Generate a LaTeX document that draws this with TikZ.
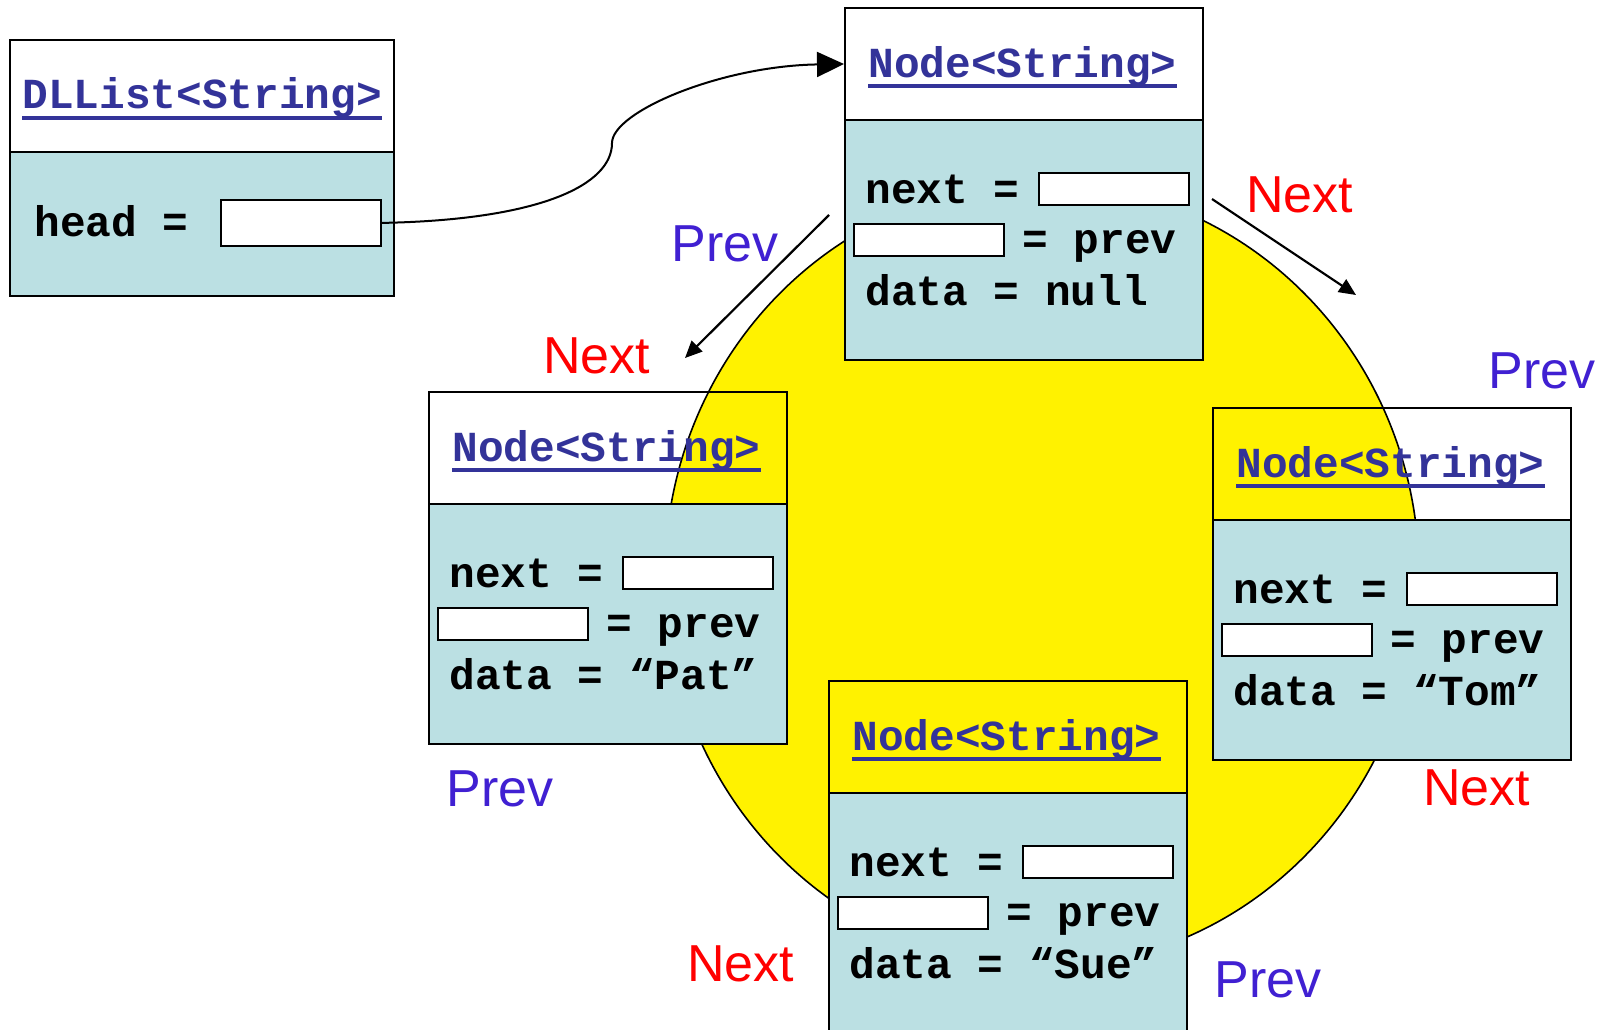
\documentclass[tikz,border=0pt]{standalone}
\usepackage{fontspec}
\setmainfont{Liberation Sans}
\newfontfamily\codefont{Liberation Mono}
\usetikzlibrary{arrows.meta,shapes.geometric}
\definecolor{bodyblue}{RGB}{187,224,227}
\definecolor{titleblue}{RGB}{51,51,153}
\definecolor{prevblue}{RGB}{64,32,210}
\definecolor{nextred}{RGB}{255,0,0}
\tikzset{
  hdrbox/.style={draw, line width=1pt, anchor=north west, minimum width=179pt, minimum height=56pt, inner sep=0pt},
  bodybox/.style={draw, fill=bodyblue, line width=1pt, anchor=north west, minimum width=179pt, minimum height=120pt, inner sep=0pt},
  fieldbox/.style={draw, fill=white, line width=0.9pt, anchor=north west, minimum width=75pt, minimum height=16pt, inner sep=0pt},
  titletext/.style={anchor=base west, inner sep=0pt, text=titleblue, font=\codefont\bfseries\fontsize{21.4}{25}\selectfont},
  codetext/.style={anchor=base west, inner sep=0pt, text=black, font=\codefont\bfseries\fontsize{21.4}{25}\selectfont},
  uline/.style={draw=titleblue, line width=2pt},
  prevlabel/.style={anchor=base west, inner sep=0pt, text=prevblue, font=\fontsize{26}{30}\selectfont},
  nextlabel/.style={anchor=base west, inner sep=0pt, text=nextred, font=\fontsize{26}{30}\selectfont},
  ptr/.style={line width=1.1pt, -{Triangle[length=8.5pt,width=7.5pt]}},
  headptr/.style={line width=1pt, -{Triangle[length=13.5pt,width=12.5pt]}}
}
\newcommand{\llnode}[4]{%
  \node[hdrbox] (#1-h) at (#2,#3) {};
  \node[bodybox] (#1-b) at (#2,{#3+112}) {};
  \node[fieldbox] (#1-next) at ({#2+194},{#3+165}) {};
  \node[fieldbox] (#1-prev) at ({#2+9},{#3+216}) {};
  \node[titletext] (#1-t) at ({#2+24},{#3+70}) {Node<String>};
  \draw[uline] ([yshift=-4.5pt]#1-t.base west) -- ([yshift=-4.5pt]#1-t.base east);
  \node[codetext] (#1-nl) at ({#2+21},{#3+196}) {next =};
  \node[codetext] (#1-pl) at ({#2+178},{#3+246}) {= prev};
  \node[codetext] (#1-dl) at ({#2+21},{#3+298}) {data = #4};
}
\begin{document}
\begin{tikzpicture}[x=0.5pt, y=-0.5pt]
\useasboundingbox (0,0) rectangle (1604,1029);
\clip (0,0) rectangle (1604,1029);
\fill[white] (0,0) rectangle (1604,1029);
% yellow ring
\node[ellipse, draw, line width=0.8pt, fill=yellow, minimum width=377pt, minimum height=392pt, inner sep=0pt] (ring) at (1042,575) {};
% DLList box
\node[hdrbox, minimum width=192pt] (list-h) at (9,39) {};
\node[bodybox, minimum width=192pt, minimum height=72pt] (list-b) at (9,151) {};
\node[titletext] (list-t) at (22,108) {DLList<String>};
\draw[uline] ([yshift=-5pt]list-t.base west) -- ([yshift=-5pt]list-t.base east);
\node[codetext] (list-hl) at (34,236) {head =};
\node[fieldbox, minimum width=80pt, minimum height=23pt] (headfield) at (220,199) {};
% list nodes
\llnode{top}{844}{7}{null}
\llnode{pat}{428}{391}{“Pat”}
\llnode{tom}{1212}{407}{“Tom”}
\llnode{sue}{828}{680}{“Sue”}
% head pointer
\coordinate (mid) at (612,143);
\draw[headptr] (headfield.east) .. controls (540,220) and (612,185) .. (mid) .. controls (612,112) and (720,66) .. (top-h.west);
% arrows
\coordinate (pa1) at (829,215);
\coordinate (pa2) at (685,358);
\coordinate (na1) at (1212,199);
\coordinate (na2) at (1356,295);
\draw[ptr] (pa1) -- (pa2);
\draw[ptr] (na1) -- (na2);
% labels
\node[nextlabel] (lab-n1) at (1246,212) {Next};
\node[prevlabel] (lab-p1) at (671,261) {Prev};
\node[nextlabel] (lab-n2) at (543,373) {Next};
\node[prevlabel] (lab-p2) at (1488,388) {Prev};
\node[prevlabel] (lab-p3) at (446,806) {Prev};
\node[nextlabel] (lab-n3) at (1423,805) {Next};
\node[nextlabel] (lab-n4) at (687,981) {Next};
\node[prevlabel] (lab-p4) at (1214,997) {Prev};
\end{tikzpicture}
\end{document}
